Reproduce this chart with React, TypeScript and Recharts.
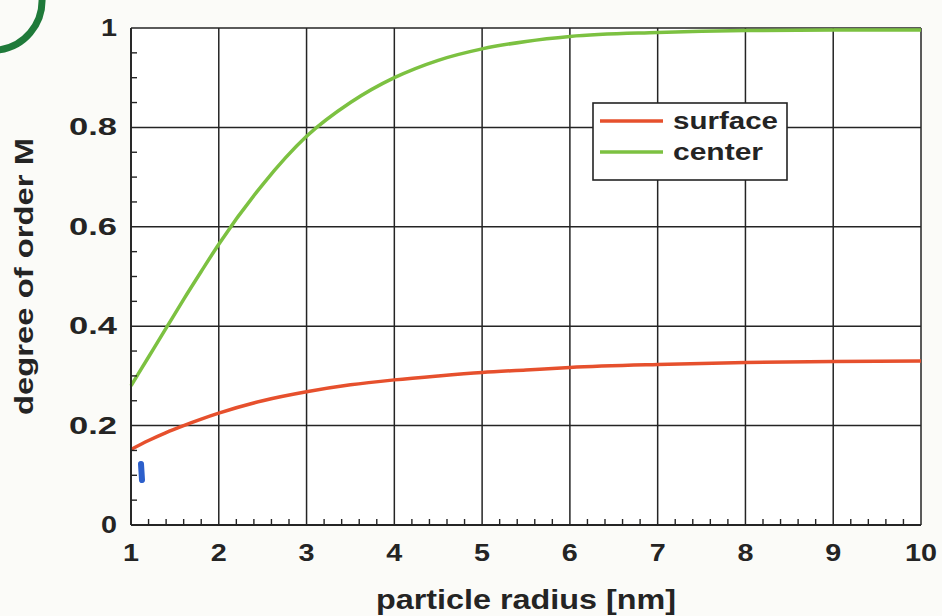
import React from 'react';
import { LineChart, Line, XAxis, YAxis, CartesianGrid } from 'recharts';

const radius = [1, 1.2, 1.4, 1.6, 1.8, 2, 2.5, 3, 3.5, 4, 4.5, 5, 5.5, 6, 7, 8, 9, 10];
const surface = [0.152, 0.17, 0.186, 0.2, 0.213, 0.225, 0.25, 0.268, 0.282, 0.292, 0.3, 0.307, 0.312, 0.317, 0.323, 0.327, 0.329, 0.33];
const center = [0.28, 0.338, 0.396, 0.454, 0.51, 0.565, 0.685, 0.782, 0.85, 0.9, 0.935, 0.958, 0.973, 0.983, 0.991, 0.995, 0.996, 0.996];

const xMajor = [1, 2, 3, 4, 5, 6, 7, 8, 9, 10];
const yMajor = [0, 0.2, 0.4, 0.6, 0.8, 1];
const yLabels = ['0', '0.2', '0.4', '0.6', '0.8', '1'];
const seriesNames = ['surface', 'center'];

// minor ticks: 5 per x unit, 4 per 0.2 on y
const xTicks = xMajor.slice(0, -1).flatMap((v) => [v, v + 0.2, v + 0.4, v + 0.6, v + 0.8]).concat([10]);
const yTicks = yMajor.slice(0, -1).flatMap((v) => [v, v + 0.05, v + 0.1, v + 0.15]).concat([1]);

const data = radius.map((r, i) => ({ r, surface: surface[i], center: center[i] }));

const INK = '#242424';
const RED = '#e6502d';
const GREEN = '#7cc141';
const FONT = '"Liberation Sans", Arial, sans-serif';
const COLORS = [RED, GREEN];

const isMajorX = (v: number) => Math.abs(v - Math.round(v)) < 1e-6;

// the scan's lettering is wider than Arial bold, so stretch glyphs to the measured widths
function Label({ x, y, text, size, len, anchor = 'middle', rotate = 0 }: any) {
    return (
        <text x={x} y={y} textAnchor={anchor} fontFamily={FONT} fontWeight="bold" fontSize={size} fill={INK}
            textLength={len} lengthAdjust="spacingAndGlyphs" transform={rotate ? `rotate(${rotate} ${x} ${y})` : undefined}>
            {text}
        </text>
    );
}

function XTick({ x, y, payload }: any) {
    const v = payload.value;
    if (isMajorX(v)) {
        const t = String(Math.round(v));
        return <Label x={x} y={y + 36} text={t} size={24} len={16 * t.length} />;
    }
    return <line x1={x} x2={x} y1={y} y2={y - 6} stroke={INK} strokeWidth={1.4} />;
}

function YTick({ x, y, payload }: any) {
    const v = payload.value;
    const idx = yMajor.findIndex((m) => Math.abs(m - v) < 1e-6);
    if (idx >= 0) {
        const t = yLabels[idx];
        return <Label x={x - 14} y={y + 8} text={t} size={24} len={16 * t.length} anchor="end" />;
    }
    return <line x1={x} x2={x + 6} y1={y} y2={y} stroke={INK} strokeWidth={1.4} />;
}

function XTitle({ viewBox }: any) {
    const { x, y, width, height } = viewBox;
    return <Label x={x + width / 2} y={y + height - 7} text="particle radius [nm]" size={27} len={300} />;
}

function YTitle({ viewBox }: any) {
    const { y, height } = viewBox;
    return <Label x={33} y={y + height / 2} text="degree of order M" size={25} len={277} rotate={-90} />;
}

export default function App() {
    return (
        <div style={{ position: 'fixed', left: 0, top: 0, width: 942, height: 616, background: '#fbfbf8', overflow: 'hidden' }}>
            <LineChart width={942} height={616} data={data} margin={{ top: 28, right: 21, left: 0, bottom: 0 }}>
                <CartesianGrid fill="#fff" stroke={INK} strokeWidth={1.5} horizontalValues={yMajor} verticalValues={xMajor} />
                <XAxis dataKey="r" type="number" domain={[1, 10]} ticks={xTicks} interval={0} height={91}
                    tickSize={0} tickMargin={0} tickLine={false} axisLine={{ stroke: INK, strokeWidth: 1.8 }} tick={<XTick />}
                    label={<XTitle />} />
                <YAxis type="number" domain={[0, 1]} ticks={yTicks} interval={0} width={131}
                    tickSize={0} tickMargin={0} tickLine={false} axisLine={{ stroke: INK, strokeWidth: 1.8 }} tick={<YTick />}
                    label={<YTitle />} />
                <Line type="monotone" dataKey="surface" stroke={RED} strokeWidth={3.5} dot={false} isAnimationActive={false} />
                <Line type="monotone" dataKey="center" stroke={GREEN} strokeWidth={3.5} dot={false} isAnimationActive={false} />
            </LineChart>
            <svg width={942} height={616} style={{ position: 'absolute', left: 0, top: 0, pointerEvents: 'none' }}>
                {/* legend */}
                <rect x={593} y={103} width={194} height={77} fill="#fff" stroke={INK} strokeWidth={1.6} />
                {seriesNames.map((n, i) => (
                    <g key={n}>
                        <line x1={600} x2={663} y1={121 + i * 31} y2={121 + i * 31} stroke={COLORS[i]} strokeWidth={3.5} />
                        <Label x={673} y={129 + i * 31} text={n} size={23} len={i === 0 ? 105 : 90} anchor="start" />
                    </g>
                ))}
                {/* pen marks on the scan */}
                <path d="M 42 -2 A 50 50 0 0 1 -2 50" fill="none" stroke="#1f7a3a" strokeWidth={7} strokeLinecap="round" />
                <line x1={141} y1={464} x2={142} y2={480} stroke="#2c5fcb" strokeWidth={6} strokeLinecap="round" />
            </svg>
        </div>
    );
}
